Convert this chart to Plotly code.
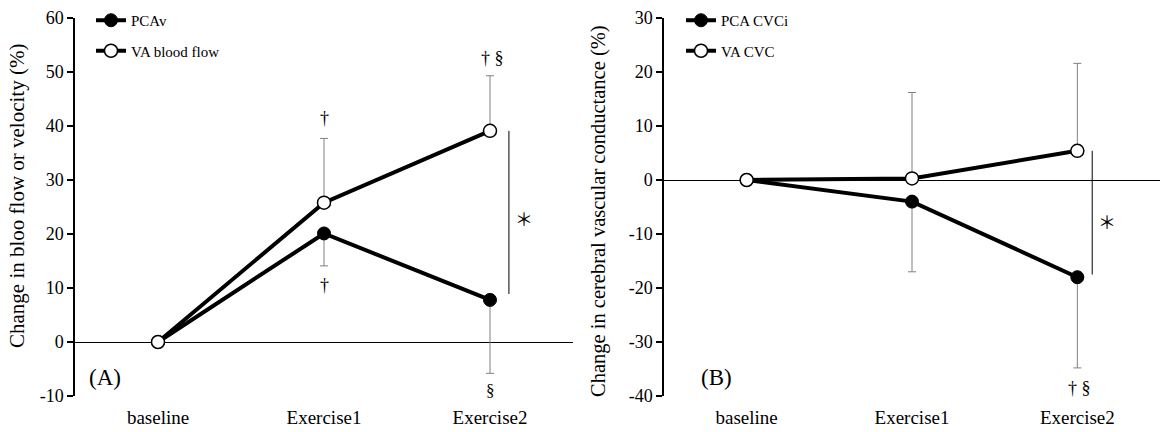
import plotly.graph_objects as go

categories = ["baseline", "Exercise1", "Exercise2"]

# Panel A: change in blood flow / velocity (%)
pcav_mean = [0.0, 20.1, 7.8]
pcav_sd = [0.0, 6.0, 13.6]
va_flow_mean = [0.0, 25.8, 39.1]
va_flow_sd = [0.0, 11.9, 10.2]

# Panel B: change in cerebral vascular conductance (%)
pca_cvci_mean = [0.0, -4.0, -18.0]
pca_cvci_sd = [0.0, 13.0, 16.8]
va_cvc_mean = [0.0, 0.3, 5.4]
va_cvc_sd = [0.0, 15.9, 16.2]

yticks_a = [-10, 0, 10, 20, 30, 40, 50, 60]
yticks_b = [-40, -30, -20, -10, 0, 10, 20, 30]

FONT = "Liberation Serif, Times New Roman, serif"
W, H = 1160, 432
xpos = list(range(len(categories)))
zeros = [0.0] * len(categories)
ERR_COLOR = "#808080"

fig = go.Figure()


def add_pair(xa, ya, filled_name, filled_mean, filled_sd, open_name, open_mean, open_sd, legend):
    fig.add_trace(go.Scatter(
        x=xpos, y=filled_mean, name=filled_name, mode="lines+markers",
        xaxis=xa, yaxis=ya, legend=legend, legendgroup=legend + "f",
        line=dict(color="black", width=4),
        marker=dict(symbol="circle", size=13, color="black", line=dict(color="black", width=1)),
        error_y=dict(type="data", symmetric=False, array=zeros, arrayminus=filled_sd,
                     color=ERR_COLOR, thickness=1, width=4),
    ))
    fig.add_trace(go.Scatter(
        x=xpos, y=open_mean, name=open_name, mode="lines+markers",
        xaxis=xa, yaxis=ya, legend=legend, legendgroup=legend + "o",
        line=dict(color="black", width=4),
        marker=dict(symbol="circle", size=13, color="white", line=dict(color="black", width=1.5)),
        error_y=dict(type="data", symmetric=False, array=open_sd, arrayminus=zeros,
                     color=ERR_COLOR, thickness=1, width=4),
    ))


add_pair("x", "y", "PCAv", pcav_mean, pcav_sd, "VA blood flow", va_flow_mean, va_flow_sd, "legend")
add_pair("x2", "y2", "PCA CVCi", pca_cvci_mean, pca_cvci_sd, "VA CVC", va_cvc_mean, va_cvc_sd, "legend2")

ydom = [36 / H, 414 / H]
xaxis_common = dict(range=[-0.5, 2.5], tickvals=xpos, ticktext=categories, showline=False,
                    showgrid=False, zeroline=False, ticks="", ticklabelstandoff=8,
                    tickfont=dict(family=FONT, size=19, color="black"), fixedrange=True,
                    automargin=False)
yaxis_common = dict(showline=True, linecolor="black", linewidth=1.5, ticks="outside",
                    ticklen=6, tickwidth=1.5, tickcolor="black", showgrid=False,
                    zeroline=True, zerolinecolor="black", zerolinewidth=1,
                    tickfont=dict(family=FONT, size=18, color="black"), domain=ydom,
                    automargin=False, fixedrange=True)

fig.update_layout(
    width=W, height=H, margin=dict(l=0, r=0, t=0, b=0, autoexpand=False),
    paper_bgcolor="white", plot_bgcolor="white",
    xaxis=dict(domain=[75 / W, 573 / W], anchor="y", **xaxis_common),
    yaxis=dict(range=[-10, 60], tickvals=yticks_a, ticktext=[str(v) for v in yticks_a],
               anchor="x", **yaxis_common),
    xaxis2=dict(domain=[664 / W, 1.0], anchor="y2", **xaxis_common),
    yaxis2=dict(range=[-40, 30], tickvals=yticks_b, ticktext=[str(v) for v in yticks_b],
                anchor="x2", **yaxis_common),
    legend=dict(x=91 / W, y=1 - 4 / H, xanchor="left", yanchor="top", bgcolor="rgba(0,0,0,0)",
                font=dict(family=FONT, size=15, color="black"), tracegroupgap=8,
                itemsizing="trace"),
    legend2=dict(x=681 / W, y=1 - 4 / H, xanchor="left", yanchor="top", bgcolor="rgba(0,0,0,0)",
                 font=dict(family=FONT, size=15, color="black"), tracegroupgap=8,
                 itemsizing="trace"),
    showlegend=True,
)


def ann(text, x, y, xref, yref, yshift=0, xshift=0, size=18, family=FONT):
    fig.add_annotation(text=text, x=x, y=y, xref=xref, yref=yref, showarrow=False,
                       yshift=yshift, xshift=xshift, xanchor="center", yanchor="middle",
                       font=dict(family=family, size=size, color="black"))


STAR_FONT = "Noto Sans CJK JP"

# Panel A significance marks
ann("†", 1, va_flow_mean[1] + va_flow_sd[1], "x", "y", yshift=20)
ann("†", 1, pcav_mean[1] - pcav_sd[1], "x", "y", yshift=-19)
ann("† §", 2, va_flow_mean[2] + va_flow_sd[2], "x", "y", yshift=18, xshift=2)
ann("§", 2, pcav_mean[2] - pcav_sd[2], "x", "y", yshift=-17, size=17)
fig.add_shape(type="line", x0=2.114, x1=2.114, y0=pcav_mean[2] + 1.1, y1=va_flow_mean[2],
              xref="x", yref="y", line=dict(color="black", width=1))
ann("＊", 2.205, (pcav_mean[2] + va_flow_mean[2]) / 2, "x", "y", yshift=-3, size=18,
    family=STAR_FONT)
ann("(A)", 0.06, 0.048, "x domain", "y domain", size=23)

# Panel B significance marks
ann("† §", 2, pca_cvci_mean[2] - pca_cvci_sd[2], "x2", "y2", yshift=-20, xshift=2)
fig.add_shape(type="line", x0=2.09, x1=2.09, y0=pca_cvci_mean[2] + 0.5, y1=va_cvc_mean[2],
              xref="x2", yref="y2", line=dict(color="black", width=1))
ann("＊", 2.18, (pca_cvci_mean[2] + va_cvc_mean[2]) / 2, "x2", "y2", yshift=-7, size=18,
    family=STAR_FONT)
ann("(B)", 0.105, 0.05, "x2 domain", "y2 domain", size=23)

# Axis titles
fig.add_annotation(text="Change in bloo flow or velocity (%)", x=17 / W, y=1 - 196 / H,
                   xref="paper", yref="paper", showarrow=False, textangle=-90,
                   xanchor="center", yanchor="middle", font=dict(family=FONT, size=21, color="black"))
fig.add_annotation(text="Change in cerebral vascular conductance (%)", x=598 / W, y=1 - 211 / H,
                   xref="paper", yref="paper", showarrow=False, textangle=-90,
                   xanchor="center", yanchor="middle", font=dict(family=FONT, size=20.5, color="black"))

fig.write_html("out.html", config={"displayModeBar": False},
               post_script="document.body.style.margin='0px';")
